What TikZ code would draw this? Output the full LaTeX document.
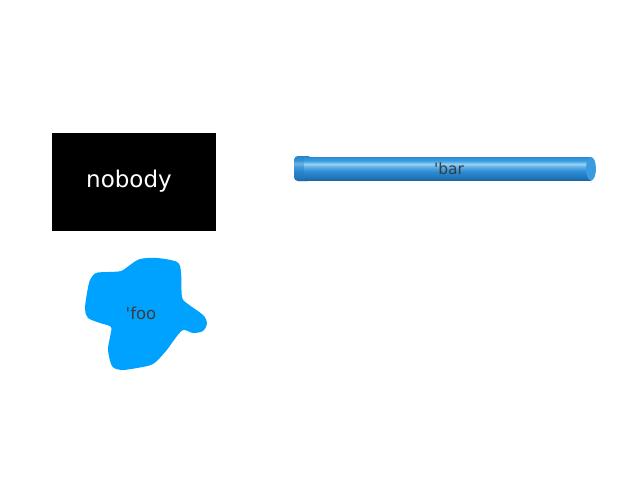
\documentclass[tikz,border=0pt]{standalone}
\usepackage{fontspec}
\setmainfont{DejaVu Sans}
\definecolor{blobblue}{RGB}{0,162,255}
\definecolor{txtgray}{RGB}{60,60,60}
\definecolor{cylA}{RGB}{40,140,212}
\definecolor{cylB}{RGB}{60,158,224}
\definecolor{cylC}{RGB}{150,208,242}
\definecolor{cylD}{RGB}{85,172,230}
\definecolor{cylE}{RGB}{45,140,212}
\definecolor{cylF}{RGB}{34,118,186}
\definecolor{cylG}{RGB}{24,100,162}
\definecolor{capL}{RGB}{30,120,195}
\definecolor{capR}{RGB}{58,155,224}
\pgfdeclareverticalshading{cylshade}{100bp}{color(0bp)=(cylG); color(25bp)=(cylG); color(32bp)=(cylF); color(44bp)=(cylE); color(53bp)=(cylD); color(60bp)=(cylC); color(67bp)=(cylB); color(75bp)=(cylA); color(100bp)=(cylA)}
\tikzset{
  lbl/.style={text=txtgray, inner sep=0pt},
}
\begin{document}
\begin{tikzpicture}[x=1pt,y=-1pt]
\useasboundingbox (0,0) rectangle (640,480);
% black box
\node[fill=black, minimum width=164pt, minimum height=98pt, inner sep=0pt] (box) at (134,182) {};
\node[text=white, inner sep=0pt, font=\fontsize{23}{27}\selectfont] (nobody) at (129,181.5) {nobody};
% blob
\fill[blobblue] plot[smooth cycle, tension=0.5] coordinates {
 (130,265) (140,259) (157,258) (177,262) (181,272) (182,297) (188,304)
 (203,315) (207,323) (203,331) (193,333) (183,330) (174,340) (166,351)
 (153,364) (137,368) (121,370) (112,366) (108,350) (110,337) (111,327)
 (100,323) (88,318) (85,309) (87,293) (90,280) (96,273) (108,272) (121,271)};
\node[lbl, font=\fontsize{16.5}{20}\selectfont] (foo) at (141,313) {\textquotesingle foo};
% cylinder bar
\shade[shading=cylshade, rounded corners=4pt] (294,156) rectangle (312,181);
\fill[capL, opacity=0.35, rounded corners=4pt] (294,156) rectangle (312,181);
\shade[shading=cylshade] (304,157) rectangle (591,180.5);
\fill[capR] (591,168.75) ellipse [x radius=5, y radius=11.75];
\node[lbl, font=\fontsize{15.5}{19}\selectfont] (bar) at (449,169) {\textquotesingle bar};
\end{tikzpicture}
\end{document}
